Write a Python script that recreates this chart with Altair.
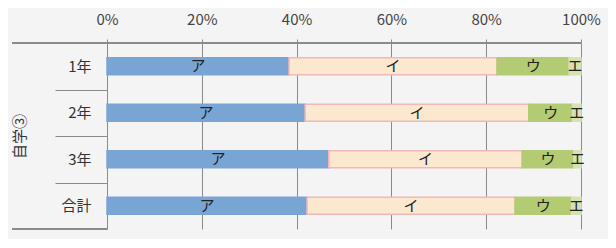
import altair as alt
import pandas as pd

categories = ["1年", "2年", "3年", "合計"]
answers = ["ア", "イ", "ウ", "エ"]
share_a = [38.4, 41.8, 46.8, 42.2]
share_i = [43.9, 47.2, 40.8, 43.9]
share_u = [15.2, 9.2, 10.9, 11.9]
share_e = [2.5, 1.8, 1.5, 2.0]
tick_values = [0, 20, 40, 60, 80, 100]
fill_colors = ["#79a5d5", "#fbe8cf", "#b3cb72", "#d6e2b0"]
stroke_colors = ["#79a5d5", "#f0b8b8", "#b3cb72", "#d6e2b0"]

rows = []
for ci, c in enumerate(categories):
    for ai, (a, vals) in enumerate(zip(answers, [share_a, share_i, share_u, share_e])):
        rows.append({"cat": c, "ans": a, "ord": ai, "v": vals[ci] / 100.0})
df = pd.DataFrame(rows)

FONT = "Noto Sans CJK JP"

base = alt.Chart(df).transform_stack(
    stack="v", groupby=["cat"], as_=["v0", "v1"], sort=[alt.SortField("ord")]
).transform_calculate(mid="(datum.v0 + datum.v1) / 2")

yenc = alt.Y(
    "cat:N",
    sort=categories,
    scale=alt.Scale(paddingInner=0, paddingOuter=0),
    axis=alt.Axis(
        title="自学③",
        titleFont=FONT,
        titleFontSize=15,
        titleFontWeight="normal",
        titleColor="#333333",
        titleX=-88,
        titleY=93,
        titleAngle=-90,
        titleAlign="center",
        titleBaseline="middle",
        labelFont=FONT,
        labelFontSize=15,
        labelColor="#333333",
        labelPadding=-36,
        tickBand="extent",
        tickSize=52,
        tickColor="#8a8a8a",
        domain=False,
        grid=False,
    ),
)

bars = base.mark_bar(strokeWidth=1.5, height={"band": 0.37}).encode(
    x=alt.X(
        "v0:Q",
        scale=alt.Scale(domain=[0, 1], nice=False),
        axis=alt.Axis(
            orient="top",
            values=[t / 100 for t in tick_values],
            format=".0%",
            title=None,
            labelFont=FONT,
            labelFontSize=15,
            labelColor="#444444",
            labelFlush=False,
            tickSize=4,
            tickColor="#8a8a8a",
            labelPadding=12,
            grid=True,
            gridColor="#8a8a8a",
            gridWidth=1,
            domain=False,
        ),
    ),
    x2="v1:Q",
    y=yenc,
    color=alt.Color("ans:N", scale=alt.Scale(domain=answers, range=fill_colors), legend=None),
    stroke=alt.Stroke("ans:N", scale=alt.Scale(domain=answers, range=stroke_colors), legend=None),
)

labels = base.mark_text(font=FONT, fontSize=15, color="#222222").encode(
    x="mid:Q",
    y=alt.Y("cat:N", sort=categories),
    text="ans:N",
)

top_line = alt.Chart(df).mark_rule(color="#8a8a8a", strokeWidth=1).encode(
    x=alt.value(-95), x2=alt.value(474), y=alt.value(0)
)
bottom_line = alt.Chart(df).mark_rule(color="#8a8a8a", strokeWidth=1).encode(
    x=alt.value(-95), x2=alt.value(0), y=alt.value(186)
)

chart = alt.layer(bars, labels, top_line, bottom_line).properties(
    width=474,
    height=186,
    background="#f4f4f4",
    padding={"left": 99, "top": 35, "right": 27, "bottom": 10},
    autosize=alt.AutoSizeParams(type="none"),
).configure_view(stroke=None)

chart.save("out.html", embed_options={"renderer": "svg", "actions": False})
